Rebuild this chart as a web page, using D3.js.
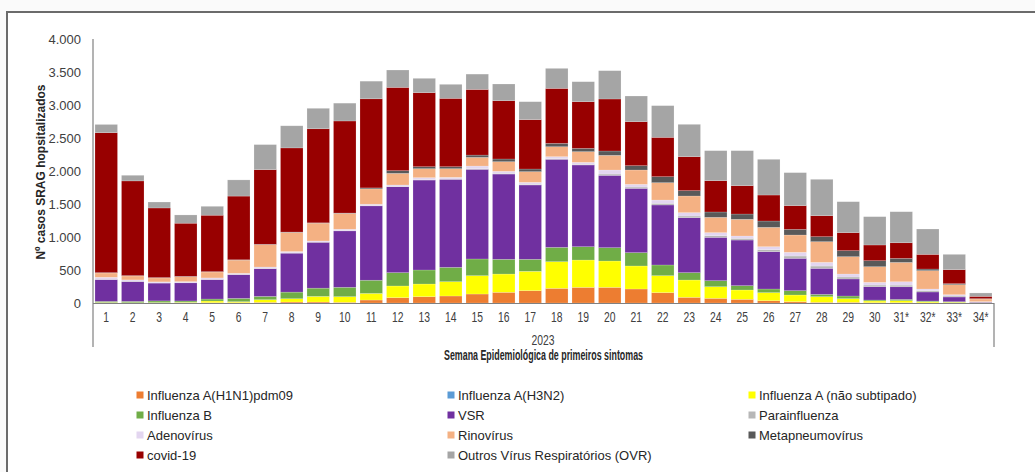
<!DOCTYPE html>
<html><head><meta charset="utf-8">
<script src="https://cdn.jsdelivr.net/npm/d3@7"></script>
<style>
html,body{margin:0;padding:0;background:#fafafa;}
svg{display:block;}
</style></head>
<body>
<svg id="chart" width="1035" height="472"></svg>
<script>
const weeks = ["1","2","3","4","5","6","7","8","9","10","11","12","13","14","15","16","17","18","19","20","21","22","23","24","25","26","27","28","29","30","31*","32*","33*","34*"];
const seriesNames = ["Influenza A(H1N1)pdm09","Influenza A(H3N2)","Influenza A (não subtipado)","Influenza B","VSR","Parainfluenza","Adenovírus","Rinovírus","Metapneumovírus","covid-19","Outros Vírus Respiratórios (OVR)"];
const colors = ["#ED7D31","#5B9BD5","#FFFF00","#70AD47","#7030A0","#B7B7B7","#E3D6F0","#F4B183","#595959","#980000","#A5A5A5"];
const h1n1   = [3,2,2,3,5,5,10,15,15,10,45,81,96,106,136,162,187,222,237,237,212,157,86,71,56,35,20,10,10,5,5,3,2,1];
const h3n2   = [0,0,0,0,0,0,0,0,0,0,0,0,0,0,0,0,0,0,0,0,0,0,0,0,0,0,0,0,0,0,0,0,0,0];
const fluA   = [5,3,5,8,25,15,40,50,85,86,100,177,192,217,278,277,293,404,414,399,349,257,262,176,141,122,101,86,56,25,30,15,10,2];
const fluB   = [17,20,25,20,30,50,50,100,125,142,200,202,212,217,253,223,182,217,202,202,202,162,112,91,66,55,66,35,40,15,20,12,8,2];
const vsr    = [330,300,270,275,295,360,420,590,695,855,1127,1302,1363,1334,1358,1292,1126,1334,1238,1096,974,909,833,657,691,566,490,394,258,202,191,137,71,8];
const para   = [5,5,3,3,5,5,5,5,5,5,5,5,5,5,10,10,10,10,10,20,20,25,25,25,25,30,35,35,30,25,25,20,15,3];
const adeno  = [30,20,15,15,20,15,20,20,15,20,20,21,31,25,40,31,30,30,30,61,41,50,51,46,36,45,56,56,45,41,51,25,20,5];
const rino   = [65,60,60,75,90,200,340,290,270,240,232,176,136,131,131,146,162,151,162,222,217,263,252,232,253,293,262,313,263,237,293,278,152,40];
const meta   = [5,5,5,5,5,5,5,5,5,5,15,41,30,30,35,41,40,51,50,66,66,91,81,81,80,96,86,76,91,91,61,25,15,5];
const covid  = [2120,1435,1055,805,855,965,1130,1275,1425,1395,1350,1262,1122,1036,995,883,748,833,707,788,666,596,515,474,430,394,359,318,273,238,237,222,212,35];
const ovr    = [125,85,90,125,135,245,380,335,310,270,267,263,217,212,232,253,272,303,303,429,389,480,490,455,530,541,500,551,469,429,470,384,232,51];
const yTicks = [0,500,1000,1500,2000,2500,3000,3500,4000];
const yearLabel = "2023";
const xTitle = "Semana Epidemiológica de primeiros sintomas";
const yTitle = "Nº casos SRAG hopsitalizados";

const allSeries = [h1n1,h3n2,fluA,fluB,vsr,para,adeno,rino,meta,covid,ovr];
const rows = weeks.map((w,i)=>{
  const r = {week:w};
  seriesNames.forEach((s,k)=>{ r[s]=allSeries[k][i]; });
  return r;
});

const svg = d3.select("#chart");
svg.append("rect").attr("x",7).attr("y",12).attr("width",1035).attr("height",470)
  .attr("fill","#fff").attr("stroke","#6b6b6b").attr("stroke-width",2);

const x = d3.scaleBand().domain(weeks).range([93,994]).paddingInner(0.15).paddingOuter(0.075);
const y = d3.scaleLinear().domain([0,4000]).range([303,39]);

const stacked = d3.stack().keys(seriesNames)(rows);

const g = svg.append("g");
g.selectAll("g.series").data(stacked).join("g")
  .attr("class","series")
  .attr("fill",(d,i)=>colors[i])
  .selectAll("rect").data(d=>d).join("rect")
  .attr("x",d=>x(d.data.week))
  .attr("width",x.bandwidth())
  .attr("y",d=>y(d[1]))
  .attr("height",d=>Math.max(0,y(d[0])-y(d[1])))
  .attr("stroke","#ffffff").attr("stroke-opacity",0.3).attr("stroke-width",0.6);

const loc = d3.formatLocale({decimal:",",thousands:".",grouping:[3],currency:["R$",""]});
const fmt = loc.format(",");

const yAxis = d3.axisLeft(y).tickValues(yTicks).tickFormat(fmt).tickSize(0).tickPadding(12);
const ya = svg.append("g").attr("transform","translate(93,0)").call(yAxis);
ya.select(".domain").remove();
ya.selectAll("text").attr("font-family","Liberation Sans, Arial, sans-serif").attr("font-size",13).attr("fill","#404040");
svg.append("line").attr("x1",93).attr("x2",93).attr("y1",39).attr("y2",347).attr("stroke","#808080").attr("stroke-width",1.2);

const narrow = "Liberation Sans, Arial, sans-serif";
const xAxis = d3.axisBottom(x).tickSize(0).tickPadding(9);
const xa = svg.append("g").attr("transform","translate(0,303)").call(xAxis);
xa.select(".domain").remove();
xa.selectAll("text").attr("font-family",narrow).attr("font-size",14).attr("fill","#404040")
  .attr("transform","scale(0.74,1)");
svg.append("line").attr("x1",93).attr("x2",994).attr("y1",303.5).attr("y2",303.5).attr("stroke","#808080").attr("stroke-width",1.2);
svg.append("line").attr("x1",994).attr("x2",994).attr("y1",303).attr("y2",347).attr("stroke","#808080").attr("stroke-width",1.2);

svg.append("g").attr("transform","translate(543,345) scale(0.74,1)")
  .append("text").attr("text-anchor","middle")
  .attr("font-family",narrow).attr("font-size",14).attr("fill","#404040").text(yearLabel);
svg.append("text").attr("x",444).attr("y",360)
  .attr("textLength",199).attr("lengthAdjust","spacingAndGlyphs")
  .attr("font-family",narrow).attr("font-weight","bold").attr("font-size",14).attr("fill","#262626").text(xTitle);

svg.append("text").attr("transform","translate(45,172) rotate(-90)").attr("text-anchor","middle")
  .attr("font-family","Liberation Sans, Arial, sans-serif").attr("font-weight","bold").attr("font-size",12).attr("fill","#262626").text(yTitle);

const colX = [140,451,752];
const rowY = [395,415,435,455];
const lg = svg.append("g");
seriesNames.forEach((s,i)=>{
  const cx = colX[i%3], cy = rowY[Math.floor(i/3)];
  lg.append("rect").attr("x",cx-3.5).attr("y",cy-3.5).attr("width",7).attr("height",7).attr("fill",colors[i]);
  lg.append("text").attr("x",cx+7).attr("y",cy).attr("dy","0.35em")
    .attr("font-family","Liberation Sans, Arial, sans-serif").attr("font-size",13).attr("fill","#262626").text(s);
});
</script>
</body></html>
